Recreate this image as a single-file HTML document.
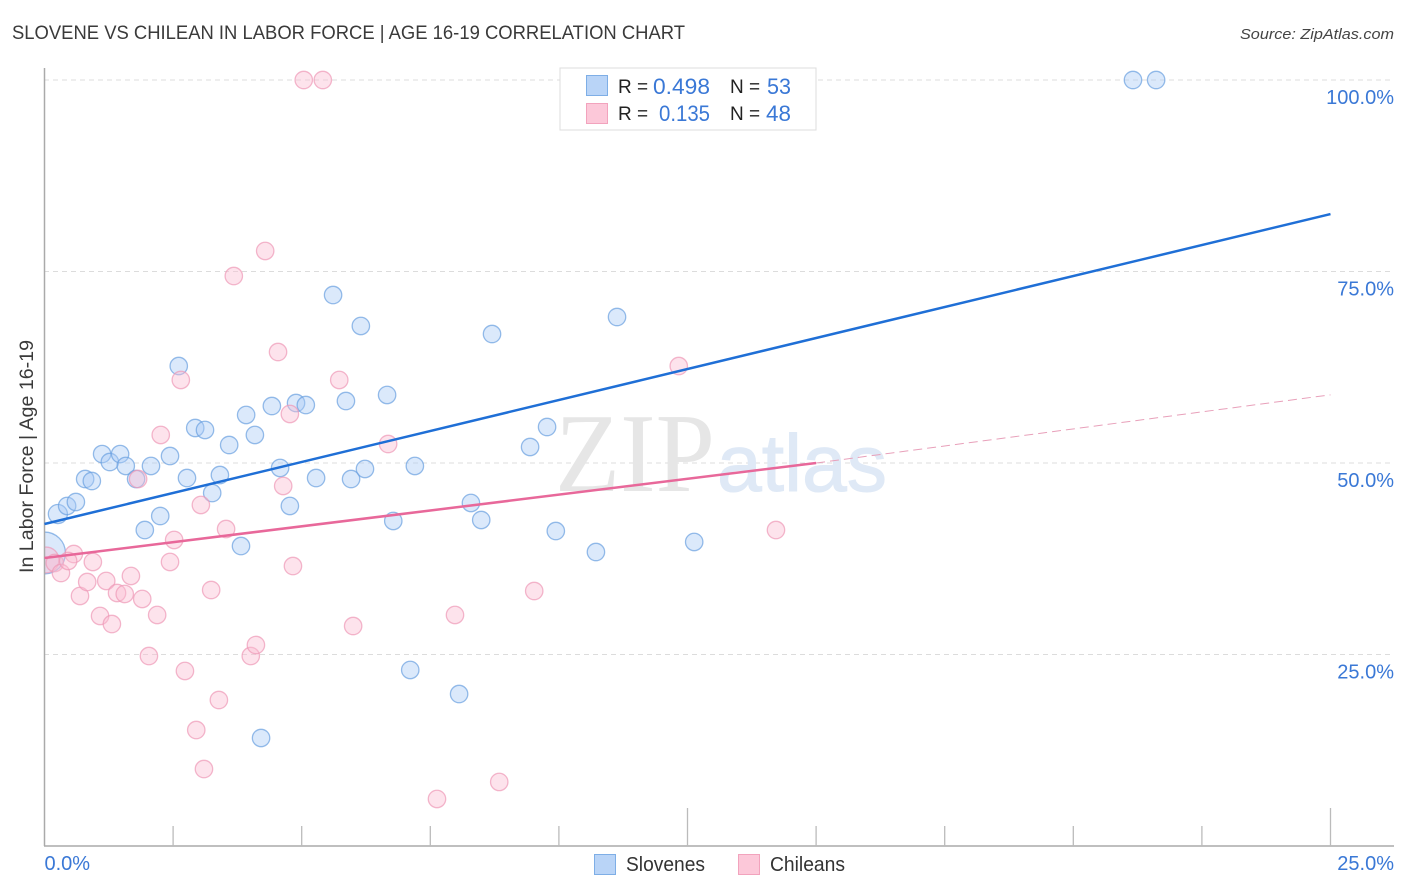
<!DOCTYPE html>
<html>
<head>
<meta charset="utf-8">
<title>Slovene vs Chilean in Labor Force | Age 16-19 Correlation Chart</title>
<style>
html,body{margin:0;padding:0;background:#fff;}
svg{display:block;font-family:"Liberation Sans",sans-serif;}
</style>
</head>
<body>
<svg id="chart" width="1406" height="892" viewBox="0 0 1406 892" xmlns="http://www.w3.org/2000/svg">
  <text x="12" y="39" font-size="19" fill="#3a3a3a" textLength="673" lengthAdjust="spacingAndGlyphs">SLOVENE VS CHILEAN IN LABOR FORCE | AGE 16-19 CORRELATION CHART</text>
  <text x="1394" y="39" font-size="15" font-style="italic" fill="#444" text-anchor="end" textLength="154" lengthAdjust="spacingAndGlyphs">Source: ZipAtlas.com</text>
  <g id="grid"></g>
  <text x="555" y="491" style="font-family:'Liberation Serif',serif" font-size="112" fill="#e6e6e6" textLength="160" lengthAdjust="spacingAndGlyphs">ZIP</text>
  <text x="717" y="491" style="font-family:'Liberation Sans',sans-serif" font-size="81" fill="#dfe9f6" stroke="#dfe9f6" stroke-width="1" textLength="170" lengthAdjust="spacingAndGlyphs">atlas</text>
  <g id="points-slovenes"></g>
  <g id="points-chileans"></g>
  <rect x="0" y="60" width="44" height="790" fill="#fff"/>
  <g id="axes"></g>
  <g id="lines"></g>
  <g id="labels"></g>
  <text transform="translate(33,573) rotate(-90)" font-size="19" fill="#3a3a3a" textLength="233" lengthAdjust="spacingAndGlyphs">In Labor Force | Age 16-19</text>

  <g>
    <rect x="560" y="68" width="256" height="62" fill="#fff" stroke="#ddd" stroke-width="1"/>
    <rect x="586.5" y="75.5" width="21" height="20" fill="#b9d4f7" stroke="#7eaee6"/>
    <rect x="586.5" y="103.5" width="21" height="20" fill="#fcc8d9" stroke="#f2a3bd"/>
    <text x="618" y="93" font-size="19" fill="#222">R =</text>
    <text x="653" y="94" font-size="22" fill="#3a78d6" textLength="57" lengthAdjust="spacingAndGlyphs">0.498</text>
    <text x="730" y="93" font-size="19" fill="#222">N =</text>
    <text x="767" y="94" font-size="22" fill="#3a78d6" textLength="24" lengthAdjust="spacingAndGlyphs">53</text>
    <text x="618" y="120" font-size="19" fill="#222">R =</text>
    <text x="659" y="121" font-size="22" fill="#3a78d6" textLength="51" lengthAdjust="spacingAndGlyphs">0.135</text>
    <text x="730" y="120" font-size="19" fill="#222">N =</text>
    <text x="766" y="121" font-size="22" fill="#3a78d6" textLength="25" lengthAdjust="spacingAndGlyphs">48</text>
  </g>

  <g>
    <rect x="594.5" y="854.5" width="21" height="20" fill="#b9d4f7" stroke="#7eaee6"/>
    <text x="626" y="871" font-size="20" fill="#333" textLength="79" lengthAdjust="spacingAndGlyphs">Slovenes</text>
    <rect x="738.5" y="854.5" width="21" height="20" fill="#fcc8d9" stroke="#f2a3bd"/>
    <text x="770" y="871" font-size="20" fill="#333" textLength="75" lengthAdjust="spacingAndGlyphs">Chileans</text>
  </g>
</svg>
<script>
const slovenesX = [0.00,0.26,0.44,0.61,0.79,0.92,1.12,1.27,1.47,1.58,1.78,1.95,2.07,2.25,2.44,2.61,2.77,2.93,3.12,3.26,3.41,3.59,3.82,3.92,4.09,4.21,4.42,4.58,4.77,4.89,5.08,5.28,5.61,5.96,6.15,6.23,5.86,6.66,6.78,7.11,7.20,8.06,8.29,8.49,8.70,9.44,9.77,9.94,10.72,11.13,12.63,21.16,21.61];
const slovenesY = [38.25,43.34,44.39,44.91,47.91,47.65,51.17,50.13,51.17,49.61,47.91,41.25,49.61,43.08,50.91,62.66,48.04,54.57,54.31,46.08,48.43,52.35,39.16,56.27,53.66,14.10,57.44,49.35,44.39,57.83,57.57,48.04,71.93,47.91,67.89,49.22,58.09,58.88,42.43,22.98,49.61,19.84,44.78,42.56,66.84,52.09,54.70,41.12,38.38,69.06,39.69,100,100];
const slovenesWeight = [5.8,1.2,1,1,1,1,1,1,1,1,1,1,1,1,1,1,1,1,1,1,1,1,1,1,1,1,1,1,1,1,1,1,1,1,1,1,1,1,1,1,1,1,1,1,1,1,1,1,1,1,1,1,1];
const chileansX = [0.03,0.20,0.32,0.57,0.46,0.69,0.83,0.94,1.08,1.20,1.31,1.41,1.56,1.68,1.90,2.03,2.19,2.26,2.44,2.52,2.65,2.73,2.95,3.04,3.10,3.24,3.39,3.53,1.82,3.68,4.01,4.11,4.29,4.54,4.64,4.77,4.83,5.04,5.41,5.73,6.00,6.68,7.63,7.98,8.84,9.52,12.33,14.22];
const chileansY = [37.34,36.95,35.64,38.12,37.21,32.64,34.46,37.08,30.03,34.60,28.98,33.03,32.90,35.25,32.25,24.80,30.16,53.66,37.08,39.95,60.84,22.85,15.14,44.52,10.05,33.42,19.06,41.38,47.91,74.41,24.80,26.24,77.68,64.49,47.00,56.40,36.55,100,100,60.84,28.72,52.48,6.14,30.16,8.36,33.29,62.66,41.25];
const chileansWeight = [2.2,1,1,1,1,1,1,1,1,1,1,1,1,1,1,1,1,1,1,1,1,1,1,1,1,1,1,1,1,1,1,1,1,1,1,1,1,1,1,1,1,1,1,1,1,1,1,1];
const slovenesTrendX = [0,25];
const slovenesTrendY = [42.04,82.5];
const chileansTrendX = [0,15];
const chileansTrendY = [37.6,50.0];
const chileansDashX = [15,25];
const chileansDashY = [50.0,58.9];
const yTickValues = [25,50,75,100];
const yTickLabels = ["25.0%","50.0%","75.0%","100.0%"];
const xTickValues = [2.5,5,7.5,10,12.5,15,17.5,20,22.5,25];
const xMajorTicks = [12.5,25];
const xEndValues = [0,25];
const xEndLabels = ["0.0%","25.0%"];

const NS = "http://www.w3.org/2000/svg";
function xScale(v){ return 44.5 + v * 51.44; }
function yScale(v){ return 846 - v * 7.66; }
function radius(w){ return 8.7 * Math.sqrt(w); }
function make(tag, attrs, parent){
  const el = document.createElementNS(NS, tag);
  for (const k in attrs) el.setAttribute(k, attrs[k]);
  parent.appendChild(el);
  return el;
}
const gridG = document.getElementById("grid");
const axesG = document.getElementById("axes");
const labelsG = document.getElementById("labels");
const linesG = document.getElementById("lines");

yTickValues.forEach(function(v, i){
  const g = make("line", {x1:44, x2:1394, y1:yScale(v), y2:yScale(v), stroke:"#dcdcdc", "stroke-width":1, "stroke-dasharray":"5 4"}, gridG);
  
  
  const t = make("text", {x:1394, y:yScale(v)+24, "text-anchor":"end", "font-size":20, fill:"#3a78d6"}, labelsG);
  t.textContent = yTickLabels[i];
  
  
});

const yAxis = make("line", {x1:44.5, x2:44.5, y1:68, y2:846, stroke:"#aaa", "stroke-width":1.5}, axesG);


const xAxis = make("line", {x1:44, x2:1394, y1:846, y2:846, stroke:"#aaa", "stroke-width":1.5}, axesG);



xTickValues.forEach(function(v){
  const len = xMajorTicks.indexOf(v) >= 0 ? 38 : 20;
  const l = make("line", {x1:xScale(v), x2:xScale(v), y1:846-len, y2:846, stroke:"#bbb", "stroke-width":1.3}, axesG);
  
  
});

xEndValues.forEach(function(v, i){
  const t = make("text", {x: i === 0 ? xScale(v) : 1394, y:870, "text-anchor": i === 0 ? "start" : "end", "font-size":20, fill:"#3a78d6"}, labelsG);
  t.textContent = xEndLabels[i];
  
  
});

function drawPoints(groupId, xs, ys, ws, fill, stroke, name){
  const g = document.getElementById(groupId);
  xs.forEach(function(x, i){
    const c = make("circle", {cx:xScale(x), cy:yScale(ys[i]), r:radius(ws[i]), fill:fill, "fill-opacity":0.42, stroke:stroke, "stroke-opacity":0.7, "stroke-width":1.3}, g);
    
    
  });
}
drawPoints("points-slovenes", slovenesX, slovenesY, slovenesWeight, "#a9cbf5", "#6a9fe0", "slovene-point");
drawPoints("points-chileans", chileansX, chileansY, chileansWeight, "#fbbdd2", "#ee98b6", "chilean-point");

function drawLine(xs, ys, stroke, width, dash, opacity, name){
  const l = make("line", {x1:xScale(xs[0]), y1:yScale(ys[0]), x2:xScale(xs[1]), y2:yScale(ys[1]), stroke:stroke, "stroke-width":width, "stroke-opacity":opacity}, linesG);
  if (dash) l.setAttribute("stroke-dasharray", dash);
  
  
}
drawLine(slovenesTrendX, slovenesTrendY, "#1f6fd6", 2.5, null, 1, "slovenes-trend-line");
drawLine(chileansTrendX, chileansTrendY, "#e8689a", 2.5, null, 1, "chileans-trend-line");
drawLine(chileansDashX, chileansDashY, "#e8a0ba", 1, "9 5", 1, "chileans-trend-projection");
</script>
</body>
</html>
